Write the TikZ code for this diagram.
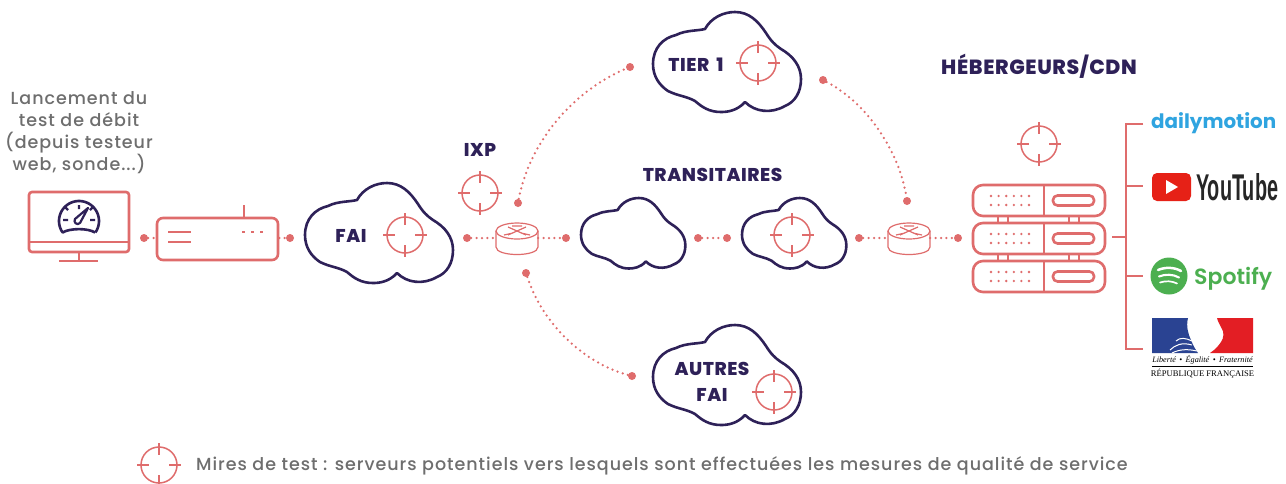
\documentclass[tikz,border=0pt]{standalone}
\usepackage{fontspec}
\setmainfont{Poppins}
\newfontfamily\lib{Liberation Serif}
\newfontfamily\arialf{Liberation Sans Bold}
\newfontfamily\titlef[LetterSpace=3]{Poppins ExtraBold}
\newfontfamily\greyf[LetterSpace=5.5]{Poppins Medium}
\newfontfamily\spotf{Poppins SemiBold}
\usetikzlibrary{calc}
\definecolor{salmon}{HTML}{DF6C6C}
\definecolor{navy}{HTML}{2E2158}
\definecolor{greytxt}{HTML}{6E6E6E}
\definecolor{dmblue}{HTML}{2FA4E0}
\definecolor{ytred}{HTML}{E62117}
\definecolor{spgreen}{HTML}{4CAF50}
\definecolor{frblue}{HTML}{2A4392}
\definecolor{frred}{HTML}{E31E24}
\tikzset{
  x=1pt,y=-1pt,
  dotnode/.style={circle,fill=salmon,inner sep=0pt,minimum size=8pt},
  dotline/.style={salmon,line width=2.5pt,line cap=round,dash pattern=on 0pt off 5.4pt},
  iconline/.style={salmon,line width=2.6pt,line join=round},
  thinline/.style={salmon,line width=1.5pt},
  cloudline/.style={navy,line width=2.6pt,line join=round},
  title/.style={navy,font=\titlef\fontsize{18.5}{22}\selectfont,inner sep=0pt,align=center},
  greylabel/.style={greytxt,inner sep=0pt,align=center},
  rowbox/.style={draw=salmon,line width=2.6pt,rounded corners=10pt,minimum width=132pt,minimum height=31pt,inner sep=0pt},
  pill/.style={draw=salmon,line width=2.6pt,rounded corners=4.5pt,minimum width=41pt,minimum height=10pt,inner sep=0pt},
  blankbox/.style={inner sep=0pt,minimum width=42pt,minimum height=23pt},
  cloudpic/.pic={
    \draw[cloudline,fill=white] (0,52)
      .. controls (0,36) and (10,26) .. (23,23)
      .. controls (33,18) and (44,19) .. (52,17)
      .. controls (58,6) and (70,0) .. (82,0)
      .. controls (96,0) and (105,9) .. (113,21)
      .. controls (118,29) and (122,33) .. (128,37)
      .. controls (140,44) and (148,54) .. (148,67)
      .. controls (148,80) and (142,90) .. (132,94)
      .. controls (118,102) and (102,100) .. (92,90)
      .. controls (84,99) and (74,100) .. (68,100)
      .. controls (56,100) and (49,95) .. (42,89)
      .. controls (33,84) and (25,84) .. (15,79)
      .. controls (6,73) and (0,64) .. (0,52) -- cycle;
  },
  targetpic/.pic={
    \draw[thinline] (0,0) circle[radius=18pt];
    \draw[thinline] (-22,0) -- (-10,0) (10,0) -- (22,0) (0,-22) -- (0,-10) (0,10) -- (0,22);
  },
  routerpic/.pic={
    \draw[salmon,line width=1.2pt,fill=white] (-21,0) -- (-21,16) .. controls (-21,26) and (21,26) .. (21,16) -- (21,0);
    \draw[salmon,line width=1.2pt,fill=white] (0,0) ellipse[x radius=21pt,y radius=8pt];
    \draw[salmon,line width=1.2pt] (-9,-4) -- (9,4) (9,-4) -- (-9,4)
      (-13,4) -- (-4,2) (13,4) -- (4,2) (-5,-5) -- (5,-5);
  }
}
\begin{document}
\begin{tikzpicture}
\useasboundingbox (0,0) rectangle (1286,483);
\fill[white] (0,0) rectangle (1286,483);

% clouds
\path (305,183) pic {cloudpic};
\path (653,12) pic {cloudpic};
\path (653,325) pic {cloudpic};
\path (581,198) pic[scale=0.705] {cloudpic};
\path (742,198) pic[scale=0.705] {cloudpic};

% named anchors
\node[dotnode] (d1) at (144,238) {};
\node[dotnode] (d2) at (290,238) {};
\node[dotnode] (d3) at (467,238) {};
\node[dotnode] (d4) at (566,238) {};
\node[dotnode] (d5) at (698,238) {};
\node[dotnode] (d6) at (727,238) {};
\node[dotnode] (d7) at (859,238) {};
\node[dotnode] (d8) at (958,238) {};
\node[dotnode] (up1) at (518,203) {};
\node[dotnode] (up2) at (630,67) {};
\node[dotnode] (rt1) at (823,80) {};
\node[dotnode] (rt2) at (907,201) {};
\node[dotnode] (lo1) at (526,273) {};
\node[dotnode] (lo2) at (632,376) {};
\node[blankbox] (r1) at (517,238) {};
\node[blankbox] (r2) at (909,238) {};

% monitor
\node[draw=salmon,line width=2.6pt,rounded corners=3pt,minimum width=100pt,minimum height=60pt,inner sep=0pt] (mon) at (79,222) {};
\draw[iconline] (29,242) -- (129,242) (79,252) -- (79,261) (59,261) -- (98,261);
% gauge
\draw[navy,line width=2.6pt,line join=round] plot[domain=-35:215,samples=40] ({79+20*cos(\x)},{221-20*sin(\x)})
  .. controls (70,228) and (88,228) .. (95,232.5);
\draw[navy,line width=2.4pt] (79,205) -- (79,209) (65.5,207.5) -- (68,210) (92.5,207.5) -- (90,210) (63,220) -- (68,220) (90,220) -- (95,220);
\draw[navy,line width=2.2pt,line join=round,fill=white] (75,219) -- (88,208) -- (80,223) .. controls (77,226) and (73,222) .. (75,219) -- cycle;

% modem
\node[draw=salmon,line width=2.6pt,rounded corners=6pt,minimum width=121pt,minimum height=42pt,inner sep=0pt] (box) at (217.5,239) {};
\draw[iconline] (244,205) -- (244,218) (168,232) -- (191,232) (168,242) -- (191,242);
\draw[salmon,line width=2.2pt,dash pattern=on 3pt off 6pt] (242,232) -- (268,232);
\draw[dotline] (d1) -- (d1 -| box.west);
\draw[dotline] (d2 -| box.east) -- (d2);

% routers
\path (517,231) pic {routerpic};
\path (909,231) pic {routerpic};
\draw[dotline] (d3) -- (r1);
\draw[dotline] (r1) -- (d4);
\draw[dotline] (d5) -- (d6);
\draw[dotline] (d7) -- (r2);
\draw[dotline] (r2) -- (d8);
\draw[dotline] (up1) .. controls (530,140) and (575,90) .. (up2);
\draw[dotline] (rt1) .. controls (870,105) and (900,155) .. (rt2);
\draw[dotline] (lo1) .. controls (545,330) and (590,365) .. (lo2);

% targets
\path (405,235) pic {targetpic};
\path (480,193) pic {targetpic};
\path (758,63) pic {targetpic};
\path (774,392) pic {targetpic};
\path (792,235) pic {targetpic};
\path (1039,144) pic {targetpic};
\path (159,465) pic {targetpic};

% server
\foreach \n/\yy in {a/200.5,b/238.5,c/276.5}{
  \node[rowbox] (row\n) at (1039,\yy) {};
  \node[pill] (pill\n) at (1073.5,\yy) {};
  \draw[iconline] (1044,\yy-15.5) -- (1044,\yy+15.5);
  \foreach \cx in {0,1,...,5}{
    \fill[salmon] (991+\cx*7.6,\yy-4.5) circle[radius=1.3pt] (991+\cx*7.6,\yy+4.5) circle[radius=1.3pt];
  }
}
\draw[iconline] (998,216) -- (998,223) (1008,216) -- (1008,223) (1069,216) -- (1069,223) (1079,216) -- (1079,223)
  (998,254) -- (998,261) (1008,254) -- (1008,261) (1069,254) -- (1069,261) (1079,254) -- (1079,261);

% bracket
\coordinate (bk) at (1126,237);
\coordinate (bt) at (1126,124);
\coordinate (bb) at (1126,349);
\coordinate (l1) at (1143,124);
\coordinate (l2) at (1143,186);
\coordinate (l3) at (1143,276);
\coordinate (l4) at (1143,349);
\draw[salmon,line width=2.8pt,line join=miter] (l1) -- (bt) -- (bb) -- (l4);
\draw[salmon,line width=2.8pt] (1112,237) -- (bk) (1126,186) -- (l2) (1126,276) -- (l3);

% logos
\node[inner sep=0pt,anchor=west,text=dmblue,font=\bfseries] (dm) at (1151,123.5) {\resizebox{125pt}{!}{dailymotion}};
\node[fill=ytred,rounded corners=5pt,minimum width=39pt,minimum height=28pt,inner sep=0pt] (yt) at (1171.5,187) {};
\fill[white] (1166,180) -- (1178,187) -- (1166,194) -- cycle;
\node[inner sep=0pt,anchor=west,text=black!85] (ytt) at (1196,187.5) {\resizebox{82pt}{27pt}{\arialf YouTube}};
\node[circle,fill=spgreen,minimum size=37pt,inner sep=0pt] (sp) at (1169,276) {};
\draw[white,line width=2.5pt,line cap=round] (1158,270) .. controls (1165,267) and (1174,267) .. (1181,271);
\draw[white,line width=2.1pt,line cap=round] (1159,276.5) .. controls (1165,274) and (1173,274) .. (1179,277.5);
\draw[white,line width=1.7pt,line cap=round] (1160,282.5) .. controls (1166,280.5) and (1172,281) .. (1177,283.5);
\node[inner sep=0pt,anchor=west,text=spgreen] (spt) at (1194,279) {\resizebox{78pt}{!}{\spotf Spotify}};
% Marianne
\fill[frblue] (1152,318) -- (1188,318) .. controls (1186,326) and (1188,334) .. (1191,340) .. controls (1193,345) and (1195,349) .. (1198,353) -- (1152,353) -- cycle;
\fill[frred] (1217,318) -- (1253,318) -- (1253,353) -- (1210,353) .. controls (1216,349) and (1219,345) .. (1221,342) .. controls (1224,338) and (1224,332) .. (1222,329) .. controls (1220,325) and (1218,322) .. (1217,318) -- cycle;
\draw[white,line width=1pt] (1170,350) .. controls (1175,345) and (1182,342) .. (1192,345) (1176,341) .. controls (1180,337) and (1186,338) .. (1192,341) (1172,353) .. controls (1180,349) and (1188,349) .. (1197,351);
\node[inner sep=0pt,font=\lib\itshape\fontsize{8.2}{9}\selectfont,text=black] (dev) at (1202.5,360) {Liberté \,•\, Égalité \,•\, Fraternité};
\draw[black,line width=0.7pt] (1152,366.5) -- (1253,366.5);
\node[inner sep=0pt,font=\lib\fontsize{8.6}{10}\selectfont,text=black] (rep) at (1202.5,374) {RÉPUBLIQUE FRANÇAISE};

% titles
\node[title] (tfai) at (351,236) {FAI};
\node[title] (tier) at (696,65) {TIER\hspace{3pt} 1};
\node[title] (aut) at (712,382) {AUTRES\\[4pt]FAI};
\node[title] (ixp) at (480,150) {IXP};
\node[title] (tra) at (712.5,175) {TRANSITAIRES};
\node[title,font=\titlef\fontsize{20.5}{24}\selectfont] (heb) at (1039,66) {HÉBERGEURS/CDN};

% grey text
\node[greylabel,font=\greyf\fontsize{17.5}{22}\selectfont] (lanc) at (79,133) {Lancement du\\test de débit\\(depuis testeur\\web, sonde...)};
\node[greylabel,anchor=west,font=\greyf\fontsize{17.5}{20}\selectfont] (leg) at (196,466) {Mires de test : serveurs potentiels vers lesquels sont effectuées les mesures de qualité de service};
\end{tikzpicture}
\end{document}
